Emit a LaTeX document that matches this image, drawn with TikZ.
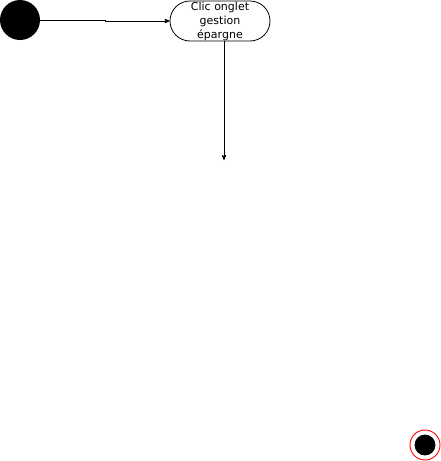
\documentclass[tikz,border=0pt]{standalone}
\usepackage{fontspec}
\setmainfont{DejaVu Sans}
\usetikzlibrary{shapes,arrows}

\begin{document}
\begin{tikzpicture}[x=1pt,y=1pt,line width=0.8pt,>=stealth']
	\useasboundingbox (0,0) rectangle (441,-461);
	\tikzset{etat/.style={draw,rounded corners=20pt,minimum width=100pt,minimum height=40pt,
		inner sep=0pt,align=center,font=\fontsize{11}{14}\selectfont}}
	
	\node[circle,fill=black,minimum size=40pt,inner sep=0pt] (debut) at (20,-20) {};
	\node[etat] (clic) at (220,-21) {Clic onglet\\gestion\\épargne};
	\coordinate (bas) at (224,-160);
	\node[circle,draw=red,line width=0.9pt,minimum size=30pt,inner sep=0pt] (fin) at (425,-445) {};
	\filldraw[black] (fin.center) circle (10pt);
	
	\draw[->] (debut) -- (105,-20) -- (105,-21) -- (clic.west);
	\draw[->] (clic.south -| bas) -- (bas);
	
\end{tikzpicture}
\end{document}
